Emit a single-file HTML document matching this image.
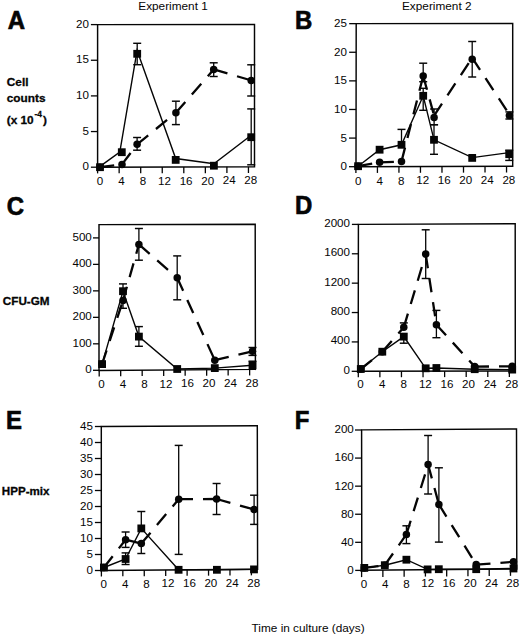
<!DOCTYPE html>
<html><head><meta charset="utf-8"><style>
html,body{margin:0;padding:0;background:#fff;width:520px;height:635px;overflow:hidden}
svg{display:block}
text{font-family:"Liberation Sans", sans-serif;fill:#050505}
</style></head><body>
<svg width="520" height="635" viewBox="0 0 520 635">
<rect width="520" height="635" fill="#fff"/>
<polygon points="97.6,24.6 254.5,24.4 254.5,166.8 97.6,167.2" fill="none" stroke="#050505" stroke-width="1.45" stroke-linejoin="miter"/>
<line x1="90.9" y1="167.2" x2="97.6" y2="167.2" stroke="#050505" stroke-width="1.3" />
<text x="89" y="170.4" font-size="11.6" text-anchor="end" font-weight="normal" >0</text>
<line x1="90.9" y1="131.55" x2="97.6" y2="131.55" stroke="#050505" stroke-width="1.3" />
<text x="89" y="134.75" font-size="11.6" text-anchor="end" font-weight="normal" >5</text>
<line x1="90.9" y1="95.9" x2="97.6" y2="95.9" stroke="#050505" stroke-width="1.3" />
<text x="89" y="99.1" font-size="11.6" text-anchor="end" font-weight="normal" >10</text>
<line x1="90.9" y1="60.25" x2="97.6" y2="60.25" stroke="#050505" stroke-width="1.3" />
<text x="89" y="63.45" font-size="11.6" text-anchor="end" font-weight="normal" >15</text>
<line x1="90.9" y1="24.6" x2="97.6" y2="24.6" stroke="#050505" stroke-width="1.3" />
<text x="89" y="27.8" font-size="11.6" text-anchor="end" font-weight="normal" >20</text>
<line x1="97.6" y1="167.2" x2="97.6" y2="173.4" stroke="#050505" stroke-width="1.3" />
<text x="99.9" y="184.8" font-size="11.6" text-anchor="middle" font-weight="normal" >0</text>
<line x1="119.15" y1="167.15" x2="119.15" y2="173.35" stroke="#050505" stroke-width="1.3" />
<text x="121.45" y="184.75" font-size="11.6" text-anchor="middle" font-weight="normal" >4</text>
<line x1="140.7" y1="167.09" x2="140.7" y2="173.29" stroke="#050505" stroke-width="1.3" />
<text x="143" y="184.69" font-size="11.6" text-anchor="middle" font-weight="normal" >8</text>
<line x1="162.25" y1="167.04" x2="162.25" y2="173.24" stroke="#050505" stroke-width="1.3" />
<text x="164.55" y="184.64" font-size="11.6" text-anchor="middle" font-weight="normal" >12</text>
<line x1="183.8" y1="166.98" x2="183.8" y2="173.18" stroke="#050505" stroke-width="1.3" />
<text x="186.1" y="184.58" font-size="11.6" text-anchor="middle" font-weight="normal" >16</text>
<line x1="205.35" y1="166.93" x2="205.35" y2="173.13" stroke="#050505" stroke-width="1.3" />
<text x="207.65" y="184.53" font-size="11.6" text-anchor="middle" font-weight="normal" >20</text>
<line x1="226.9" y1="166.87" x2="226.9" y2="173.07" stroke="#050505" stroke-width="1.3" />
<text x="229.2" y="184.47" font-size="11.6" text-anchor="middle" font-weight="normal" >24</text>
<line x1="248.45" y1="166.82" x2="248.45" y2="173.02" stroke="#050505" stroke-width="1.3" />
<text x="250.75" y="184.42" font-size="11.6" text-anchor="middle" font-weight="normal" >28</text>
<line x1="137.1" y1="137.5" x2="137.1" y2="144.3" stroke="#050505" stroke-width="1.3" />
<line x1="133.1" y1="137.5" x2="141.1" y2="137.5" stroke="#050505" stroke-width="1.45" />
<line x1="137.1" y1="144.3" x2="137.1" y2="150.2" stroke="#050505" stroke-width="1.3" />
<line x1="133.1" y1="150.2" x2="141.1" y2="150.2" stroke="#050505" stroke-width="1.45" />
<line x1="175.9" y1="101.2" x2="175.9" y2="112.8" stroke="#050505" stroke-width="1.3" />
<line x1="171.9" y1="101.2" x2="179.9" y2="101.2" stroke="#050505" stroke-width="1.45" />
<line x1="175.9" y1="112.8" x2="175.9" y2="124.6" stroke="#050505" stroke-width="1.3" />
<line x1="171.9" y1="124.6" x2="179.9" y2="124.6" stroke="#050505" stroke-width="1.45" />
<line x1="213.7" y1="62.8" x2="213.7" y2="69.4" stroke="#050505" stroke-width="1.3" />
<line x1="209.7" y1="62.8" x2="217.7" y2="62.8" stroke="#050505" stroke-width="1.45" />
<line x1="213.7" y1="69.4" x2="213.7" y2="76.5" stroke="#050505" stroke-width="1.3" />
<line x1="209.7" y1="76.5" x2="217.7" y2="76.5" stroke="#050505" stroke-width="1.45" />
<line x1="251.2" y1="64.8" x2="251.2" y2="80.4" stroke="#050505" stroke-width="1.3" />
<line x1="247.2" y1="64.8" x2="255.2" y2="64.8" stroke="#050505" stroke-width="1.45" />
<line x1="251.2" y1="80.4" x2="251.2" y2="96" stroke="#050505" stroke-width="1.3" />
<line x1="247.2" y1="96" x2="255.2" y2="96" stroke="#050505" stroke-width="1.45" />
<line x1="137.2" y1="43.3" x2="137.2" y2="53.8" stroke="#050505" stroke-width="1.3" />
<line x1="133.2" y1="43.3" x2="141.2" y2="43.3" stroke="#050505" stroke-width="1.45" />
<line x1="137.2" y1="53.8" x2="137.2" y2="64.7" stroke="#050505" stroke-width="1.3" />
<line x1="133.2" y1="64.7" x2="141.2" y2="64.7" stroke="#050505" stroke-width="1.45" />
<line x1="251.2" y1="108.9" x2="251.2" y2="137.2" stroke="#050505" stroke-width="1.3" />
<line x1="247.2" y1="108.9" x2="255.2" y2="108.9" stroke="#050505" stroke-width="1.45" />
<line x1="251.2" y1="137.2" x2="251.2" y2="164.8" stroke="#050505" stroke-width="1.3" />
<line x1="247.2" y1="164.8" x2="255.2" y2="164.8" stroke="#050505" stroke-width="1.45" />
<line x1="100" y1="167.2" x2="122" y2="164.4" stroke="#050505" stroke-width="2.3" stroke-dasharray="14.3 10" stroke-dashoffset="0"/>
<line x1="122" y1="164.4" x2="137.1" y2="144.3" stroke="#050505" stroke-width="2.3" stroke-dasharray="14.3 10" stroke-dashoffset="0"/>
<line x1="137.1" y1="144.3" x2="175.9" y2="112.8" stroke="#050505" stroke-width="2.3" stroke-dasharray="14.3 10" stroke-dashoffset="0"/>
<line x1="175.9" y1="112.8" x2="213.7" y2="69.4" stroke="#050505" stroke-width="2.3" stroke-dasharray="14.3 10" stroke-dashoffset="0"/>
<line x1="213.7" y1="69.4" x2="251.2" y2="80.4" stroke="#050505" stroke-width="2.3" stroke-dasharray="14.3 10" stroke-dashoffset="0"/>
<polyline points="100,166.4 119.8,152 137.1,50.5 175.7,158.5 213.9,163.8 251.2,135.2" fill="none" stroke="#050505" stroke-width="1.4"/>
<circle cx="100" cy="167.2" r="3.75" fill="#050505"/>
<circle cx="122" cy="164.4" r="3.75" fill="#050505"/>
<circle cx="137.1" cy="144.3" r="3.75" fill="#050505"/>
<circle cx="175.9" cy="112.8" r="3.75" fill="#050505"/>
<circle cx="213.7" cy="69.4" r="3.75" fill="#050505"/>
<circle cx="251.2" cy="80.4" r="3.75" fill="#050505"/>
<rect x="96.1" y="163.3" width="7.8" height="7.8" fill="#050505"/>
<rect x="117.9" y="148.3" width="7.8" height="7.8" fill="#050505"/>
<rect x="133.3" y="49.9" width="7.8" height="7.8" fill="#050505"/>
<rect x="171.8" y="156" width="7.8" height="7.8" fill="#050505"/>
<rect x="210" y="161.8" width="7.8" height="7.8" fill="#050505"/>
<rect x="247.3" y="133.3" width="7.8" height="7.8" fill="#050505"/>
<polygon points="356.2,23.65 512.7,23.4 512.7,166.2 356,166.7" fill="none" stroke="#050505" stroke-width="1.45" stroke-linejoin="miter"/>
<line x1="349" y1="166.7" x2="356" y2="166.7" stroke="#050505" stroke-width="1.3" />
<text x="347" y="170.25" font-size="11.6" text-anchor="end" font-weight="normal" >0</text>
<line x1="349.04" y1="138.09" x2="356.04" y2="138.09" stroke="#050505" stroke-width="1.3" />
<text x="347" y="141.64" font-size="11.6" text-anchor="end" font-weight="normal" >5</text>
<line x1="349.08" y1="109.48" x2="356.08" y2="109.48" stroke="#050505" stroke-width="1.3" />
<text x="347" y="113.03" font-size="11.6" text-anchor="end" font-weight="normal" >10</text>
<line x1="349.12" y1="80.87" x2="356.12" y2="80.87" stroke="#050505" stroke-width="1.3" />
<text x="347" y="84.42" font-size="11.6" text-anchor="end" font-weight="normal" >15</text>
<line x1="349.16" y1="52.26" x2="356.16" y2="52.26" stroke="#050505" stroke-width="1.3" />
<text x="347" y="55.81" font-size="11.6" text-anchor="end" font-weight="normal" >20</text>
<line x1="349.2" y1="23.65" x2="356.2" y2="23.65" stroke="#050505" stroke-width="1.3" />
<text x="347" y="27.2" font-size="11.6" text-anchor="end" font-weight="normal" >25</text>
<line x1="355.9" y1="166.7" x2="355.9" y2="173" stroke="#050505" stroke-width="1.3" />
<text x="358.2" y="184.7" font-size="11.6" text-anchor="middle" font-weight="normal" >0</text>
<line x1="377.42" y1="166.63" x2="377.42" y2="172.93" stroke="#050505" stroke-width="1.3" />
<text x="379.72" y="184.63" font-size="11.6" text-anchor="middle" font-weight="normal" >4</text>
<line x1="398.94" y1="166.56" x2="398.94" y2="172.86" stroke="#050505" stroke-width="1.3" />
<text x="401.24" y="184.56" font-size="11.6" text-anchor="middle" font-weight="normal" >8</text>
<line x1="420.46" y1="166.49" x2="420.46" y2="172.79" stroke="#050505" stroke-width="1.3" />
<text x="422.76" y="184.49" font-size="11.6" text-anchor="middle" font-weight="normal" >12</text>
<line x1="441.98" y1="166.43" x2="441.98" y2="172.73" stroke="#050505" stroke-width="1.3" />
<text x="444.28" y="184.43" font-size="11.6" text-anchor="middle" font-weight="normal" >16</text>
<line x1="463.5" y1="166.36" x2="463.5" y2="172.66" stroke="#050505" stroke-width="1.3" />
<text x="465.8" y="184.36" font-size="11.6" text-anchor="middle" font-weight="normal" >20</text>
<line x1="485.02" y1="166.29" x2="485.02" y2="172.59" stroke="#050505" stroke-width="1.3" />
<text x="487.32" y="184.29" font-size="11.6" text-anchor="middle" font-weight="normal" >24</text>
<line x1="506.54" y1="166.22" x2="506.54" y2="172.52" stroke="#050505" stroke-width="1.3" />
<text x="508.84" y="184.22" font-size="11.6" text-anchor="middle" font-weight="normal" >28</text>
<line x1="423.2" y1="63.2" x2="423.2" y2="76" stroke="#050505" stroke-width="1.3" />
<line x1="419.2" y1="63.2" x2="427.2" y2="63.2" stroke="#050505" stroke-width="1.45" />
<line x1="423.2" y1="76" x2="423.2" y2="81.7" stroke="#050505" stroke-width="1.3" />
<line x1="419.2" y1="81.7" x2="427.2" y2="81.7" stroke="#050505" stroke-width="1.45" />
<line x1="434.1" y1="109" x2="434.1" y2="117.4" stroke="#050505" stroke-width="1.3" />
<line x1="430.1" y1="109" x2="438.1" y2="109" stroke="#050505" stroke-width="1.45" />
<line x1="434.1" y1="117.4" x2="434.1" y2="124.7" stroke="#050505" stroke-width="1.3" />
<line x1="430.1" y1="124.7" x2="438.1" y2="124.7" stroke="#050505" stroke-width="1.45" />
<line x1="472.2" y1="41.5" x2="472.2" y2="59.3" stroke="#050505" stroke-width="1.3" />
<line x1="468.2" y1="41.5" x2="476.2" y2="41.5" stroke="#050505" stroke-width="1.45" />
<line x1="472.2" y1="59.3" x2="472.2" y2="77" stroke="#050505" stroke-width="1.3" />
<line x1="468.2" y1="77" x2="476.2" y2="77" stroke="#050505" stroke-width="1.45" />
<line x1="509.4" y1="111.9" x2="509.4" y2="115.4" stroke="#050505" stroke-width="1.3" />
<line x1="505.4" y1="111.9" x2="513.4" y2="111.9" stroke="#050505" stroke-width="1.45" />
<line x1="509.4" y1="115.4" x2="509.4" y2="119" stroke="#050505" stroke-width="1.3" />
<line x1="505.4" y1="119" x2="513.4" y2="119" stroke="#050505" stroke-width="1.45" />
<line x1="401.5" y1="129.4" x2="401.5" y2="144.8" stroke="#050505" stroke-width="1.3" />
<line x1="397.5" y1="129.4" x2="405.5" y2="129.4" stroke="#050505" stroke-width="1.45" />
<line x1="423.2" y1="88.3" x2="423.2" y2="95.8" stroke="#050505" stroke-width="1.3" />
<line x1="419.2" y1="88.3" x2="427.2" y2="88.3" stroke="#050505" stroke-width="1.45" />
<line x1="423.2" y1="95.8" x2="423.2" y2="110.3" stroke="#050505" stroke-width="1.3" />
<line x1="419.2" y1="110.3" x2="427.2" y2="110.3" stroke="#050505" stroke-width="1.45" />
<line x1="434" y1="124.7" x2="434" y2="139.8" stroke="#050505" stroke-width="1.3" />
<line x1="430" y1="124.7" x2="438" y2="124.7" stroke="#050505" stroke-width="1.45" />
<line x1="434" y1="139.8" x2="434" y2="154.3" stroke="#050505" stroke-width="1.3" />
<line x1="430" y1="154.3" x2="438" y2="154.3" stroke="#050505" stroke-width="1.45" />
<line x1="509.2" y1="150.2" x2="509.2" y2="154.2" stroke="#050505" stroke-width="1.3" />
<line x1="505.2" y1="150.2" x2="513.2" y2="150.2" stroke="#050505" stroke-width="1.45" />
<line x1="509.2" y1="154.2" x2="509.2" y2="160.4" stroke="#050505" stroke-width="1.3" />
<line x1="505.2" y1="160.4" x2="513.2" y2="160.4" stroke="#050505" stroke-width="1.45" />
<line x1="358.1" y1="166.2" x2="379.6" y2="162.3" stroke="#050505" stroke-width="2.3" stroke-dasharray="14.3 10" stroke-dashoffset="0"/>
<line x1="379.6" y1="162.3" x2="401.5" y2="161.5" stroke="#050505" stroke-width="2.3" stroke-dasharray="14.3 10" stroke-dashoffset="0"/>
<line x1="401.5" y1="161.5" x2="423.2" y2="76" stroke="#050505" stroke-width="2.3" stroke-dasharray="14.3 10" stroke-dashoffset="0"/>
<line x1="423.2" y1="76" x2="434.1" y2="115.6" stroke="#050505" stroke-width="2.3" stroke-dasharray="14.3 10" stroke-dashoffset="0"/>
<line x1="434.1" y1="115.6" x2="472.2" y2="57.8" stroke="#050505" stroke-width="2.3" stroke-dasharray="14.3 10" stroke-dashoffset="0"/>
<line x1="472.2" y1="57.8" x2="509.4" y2="114.6" stroke="#050505" stroke-width="2.3" stroke-dasharray="14.3 10" stroke-dashoffset="0"/>
<polyline points="358.1,166.2 379.6,149.7 401.5,144.8 423.2,95.8 434,139.8 472.2,157.6 509.2,152.6" fill="none" stroke="#050505" stroke-width="1.4"/>
<circle cx="358.1" cy="166.2" r="3.75" fill="#050505"/>
<circle cx="379.6" cy="162.3" r="3.75" fill="#050505"/>
<circle cx="401.5" cy="161.5" r="3.75" fill="#050505"/>
<circle cx="423.2" cy="76" r="3.75" fill="#050505"/>
<circle cx="434.1" cy="117.4" r="3.75" fill="#050505"/>
<circle cx="472.2" cy="59.3" r="3.75" fill="#050505"/>
<circle cx="509.4" cy="115.4" r="3.75" fill="#050505"/>
<rect x="354.2" y="162.3" width="7.8" height="7.8" fill="#050505"/>
<rect x="375.7" y="145.8" width="7.8" height="7.8" fill="#050505"/>
<rect x="397.6" y="140.9" width="7.8" height="7.8" fill="#050505"/>
<rect x="419.3" y="91.9" width="7.8" height="7.8" fill="#050505"/>
<rect x="430.1" y="135.9" width="7.8" height="7.8" fill="#050505"/>
<rect x="468.3" y="154" width="7.8" height="7.8" fill="#050505"/>
<rect x="505.3" y="150.3" width="7.8" height="7.8" fill="#050505"/>
<polygon points="99,224.6 255.2,224.3 255.4,369.4 99,370.4" fill="none" stroke="#050505" stroke-width="1.45" stroke-linejoin="miter"/>
<line x1="93" y1="370.3" x2="99" y2="370.3" stroke="#050505" stroke-width="1.3" />
<text x="91.8" y="373.15" font-size="11.6" text-anchor="end" font-weight="normal" >0</text>
<line x1="93" y1="343.82" x2="99" y2="343.82" stroke="#050505" stroke-width="1.3" />
<text x="91.8" y="346.67" font-size="11.6" text-anchor="end" font-weight="normal" >100</text>
<line x1="93" y1="317.34" x2="99" y2="317.34" stroke="#050505" stroke-width="1.3" />
<text x="91.8" y="320.19" font-size="11.6" text-anchor="end" font-weight="normal" >200</text>
<line x1="93" y1="290.86" x2="99" y2="290.86" stroke="#050505" stroke-width="1.3" />
<text x="91.8" y="293.71" font-size="11.6" text-anchor="end" font-weight="normal" >300</text>
<line x1="93" y1="264.38" x2="99" y2="264.38" stroke="#050505" stroke-width="1.3" />
<text x="91.8" y="267.23" font-size="11.6" text-anchor="end" font-weight="normal" >400</text>
<line x1="93" y1="237.9" x2="99" y2="237.9" stroke="#050505" stroke-width="1.3" />
<text x="91.8" y="240.75" font-size="11.6" text-anchor="end" font-weight="normal" >500</text>
<line x1="99.2" y1="370.4" x2="99.2" y2="376.4" stroke="#050505" stroke-width="1.3" />
<text x="101.5" y="388" font-size="11.6" text-anchor="middle" font-weight="normal" >0</text>
<line x1="120.69" y1="370.26" x2="120.69" y2="376.26" stroke="#050505" stroke-width="1.3" />
<text x="122.99" y="387.86" font-size="11.6" text-anchor="middle" font-weight="normal" >4</text>
<line x1="142.18" y1="370.12" x2="142.18" y2="376.12" stroke="#050505" stroke-width="1.3" />
<text x="144.48" y="387.72" font-size="11.6" text-anchor="middle" font-weight="normal" >8</text>
<line x1="163.67" y1="369.99" x2="163.67" y2="375.99" stroke="#050505" stroke-width="1.3" />
<text x="165.97" y="387.59" font-size="11.6" text-anchor="middle" font-weight="normal" >12</text>
<line x1="185.16" y1="369.85" x2="185.16" y2="375.85" stroke="#050505" stroke-width="1.3" />
<text x="187.46" y="387.45" font-size="11.6" text-anchor="middle" font-weight="normal" >16</text>
<line x1="206.65" y1="369.71" x2="206.65" y2="375.71" stroke="#050505" stroke-width="1.3" />
<text x="208.95" y="387.31" font-size="11.6" text-anchor="middle" font-weight="normal" >20</text>
<line x1="228.14" y1="369.57" x2="228.14" y2="375.57" stroke="#050505" stroke-width="1.3" />
<text x="230.44" y="387.17" font-size="11.6" text-anchor="middle" font-weight="normal" >24</text>
<line x1="249.63" y1="369.44" x2="249.63" y2="375.44" stroke="#050505" stroke-width="1.3" />
<text x="251.93" y="387.04" font-size="11.6" text-anchor="middle" font-weight="normal" >28</text>
<line x1="123" y1="300.5" x2="123" y2="308.3" stroke="#050505" stroke-width="1.3" />
<line x1="119" y1="308.3" x2="127" y2="308.3" stroke="#050505" stroke-width="1.45" />
<line x1="138.9" y1="228.5" x2="138.9" y2="244.4" stroke="#050505" stroke-width="1.3" />
<line x1="134.9" y1="228.5" x2="142.9" y2="228.5" stroke="#050505" stroke-width="1.45" />
<line x1="138.9" y1="244.4" x2="138.9" y2="260.2" stroke="#050505" stroke-width="1.3" />
<line x1="134.9" y1="260.2" x2="142.9" y2="260.2" stroke="#050505" stroke-width="1.45" />
<line x1="177.2" y1="255.9" x2="177.2" y2="277.8" stroke="#050505" stroke-width="1.3" />
<line x1="173.2" y1="255.9" x2="181.2" y2="255.9" stroke="#050505" stroke-width="1.45" />
<line x1="177.2" y1="277.8" x2="177.2" y2="299.8" stroke="#050505" stroke-width="1.3" />
<line x1="173.2" y1="299.8" x2="181.2" y2="299.8" stroke="#050505" stroke-width="1.45" />
<line x1="252.5" y1="347.5" x2="252.5" y2="351.3" stroke="#050505" stroke-width="1.3" />
<line x1="248.5" y1="347.5" x2="256.5" y2="347.5" stroke="#050505" stroke-width="1.45" />
<line x1="252.5" y1="351.3" x2="252.5" y2="355.4" stroke="#050505" stroke-width="1.3" />
<line x1="248.5" y1="355.4" x2="256.5" y2="355.4" stroke="#050505" stroke-width="1.45" />
<line x1="123" y1="283.9" x2="123" y2="291.2" stroke="#050505" stroke-width="1.3" />
<line x1="119" y1="283.9" x2="127" y2="283.9" stroke="#050505" stroke-width="1.45" />
<line x1="138.9" y1="326.6" x2="138.9" y2="336.6" stroke="#050505" stroke-width="1.3" />
<line x1="134.9" y1="326.6" x2="142.9" y2="326.6" stroke="#050505" stroke-width="1.45" />
<line x1="138.9" y1="336.6" x2="138.9" y2="346.3" stroke="#050505" stroke-width="1.3" />
<line x1="134.9" y1="346.3" x2="142.9" y2="346.3" stroke="#050505" stroke-width="1.45" />
<line x1="252.5" y1="361.2" x2="252.5" y2="365.2" stroke="#050505" stroke-width="1.3" />
<line x1="248.5" y1="361.2" x2="256.5" y2="361.2" stroke="#050505" stroke-width="1.45" />
<line x1="102.1" y1="364.1" x2="123" y2="300.5" stroke="#050505" stroke-width="2.3" stroke-dasharray="14.3 10" stroke-dashoffset="0"/>
<line x1="123" y1="300.5" x2="138.9" y2="244.4" stroke="#050505" stroke-width="2.3" stroke-dasharray="14.3 10" stroke-dashoffset="0"/>
<line x1="138.9" y1="244.4" x2="177.2" y2="277.8" stroke="#050505" stroke-width="2.3" stroke-dasharray="14.3 10" stroke-dashoffset="0"/>
<line x1="177.2" y1="277.8" x2="214.8" y2="360.2" stroke="#050505" stroke-width="2.3" stroke-dasharray="14.3 10" stroke-dashoffset="0"/>
<line x1="214.8" y1="360.2" x2="252.5" y2="351.3" stroke="#050505" stroke-width="2.3" stroke-dasharray="14.3 10" stroke-dashoffset="0"/>
<polyline points="102.1,364.1 123,291.2 138.9,336.6 177.2,369 214.8,368.1 252.5,365.2" fill="none" stroke="#050505" stroke-width="1.4"/>
<circle cx="102.1" cy="364.1" r="3.75" fill="#050505"/>
<circle cx="123" cy="300.5" r="3.75" fill="#050505"/>
<circle cx="138.9" cy="244.4" r="3.75" fill="#050505"/>
<circle cx="177.2" cy="277.8" r="3.75" fill="#050505"/>
<circle cx="214.8" cy="360.2" r="3.75" fill="#050505"/>
<circle cx="252.5" cy="351.3" r="3.75" fill="#050505"/>
<rect x="98.2" y="360.2" width="7.8" height="7.8" fill="#050505"/>
<rect x="119.1" y="287.3" width="7.8" height="7.8" fill="#050505"/>
<rect x="135" y="332.7" width="7.8" height="7.8" fill="#050505"/>
<rect x="173.3" y="365.1" width="7.8" height="7.8" fill="#050505"/>
<rect x="210.9" y="364.2" width="7.8" height="7.8" fill="#050505"/>
<rect x="248.6" y="361.3" width="7.8" height="7.8" fill="#050505"/>
<polygon points="358.4,224.4 515.2,223.7 515.3,371 358.2,371.3" fill="none" stroke="#050505" stroke-width="1.45" stroke-linejoin="miter"/>
<line x1="351.7" y1="371.3" x2="358.2" y2="371.3" stroke="#050505" stroke-width="1.3" />
<text x="350" y="373.65" font-size="11.6" text-anchor="end" font-weight="normal" >0</text>
<line x1="351.74" y1="341.92" x2="358.24" y2="341.92" stroke="#050505" stroke-width="1.3" />
<text x="350" y="344.27" font-size="11.6" text-anchor="end" font-weight="normal" >400</text>
<line x1="351.78" y1="312.54" x2="358.28" y2="312.54" stroke="#050505" stroke-width="1.3" />
<text x="350" y="314.89" font-size="11.6" text-anchor="end" font-weight="normal" >800</text>
<line x1="351.82" y1="283.16" x2="358.32" y2="283.16" stroke="#050505" stroke-width="1.3" />
<text x="350" y="285.51" font-size="11.6" text-anchor="end" font-weight="normal" >1200</text>
<line x1="351.86" y1="253.78" x2="358.36" y2="253.78" stroke="#050505" stroke-width="1.3" />
<text x="350" y="256.13" font-size="11.6" text-anchor="end" font-weight="normal" >1600</text>
<line x1="351.9" y1="224.4" x2="358.4" y2="224.4" stroke="#050505" stroke-width="1.3" />
<text x="350" y="226.75" font-size="11.6" text-anchor="end" font-weight="normal" >2000</text>
<line x1="358.3" y1="371.3" x2="358.3" y2="377.3" stroke="#050505" stroke-width="1.3" />
<text x="360.6" y="388.2" font-size="11.6" text-anchor="middle" font-weight="normal" >0</text>
<line x1="379.88" y1="371.26" x2="379.88" y2="377.26" stroke="#050505" stroke-width="1.3" />
<text x="382.18" y="388.16" font-size="11.6" text-anchor="middle" font-weight="normal" >4</text>
<line x1="401.46" y1="371.22" x2="401.46" y2="377.22" stroke="#050505" stroke-width="1.3" />
<text x="403.76" y="388.12" font-size="11.6" text-anchor="middle" font-weight="normal" >8</text>
<line x1="423.04" y1="371.18" x2="423.04" y2="377.18" stroke="#050505" stroke-width="1.3" />
<text x="425.34" y="388.08" font-size="11.6" text-anchor="middle" font-weight="normal" >12</text>
<line x1="444.62" y1="371.13" x2="444.62" y2="377.13" stroke="#050505" stroke-width="1.3" />
<text x="446.92" y="388.03" font-size="11.6" text-anchor="middle" font-weight="normal" >16</text>
<line x1="466.2" y1="371.09" x2="466.2" y2="377.09" stroke="#050505" stroke-width="1.3" />
<text x="468.5" y="387.99" font-size="11.6" text-anchor="middle" font-weight="normal" >20</text>
<line x1="487.78" y1="371.05" x2="487.78" y2="377.05" stroke="#050505" stroke-width="1.3" />
<text x="490.08" y="387.95" font-size="11.6" text-anchor="middle" font-weight="normal" >24</text>
<line x1="509.36" y1="371.01" x2="509.36" y2="377.01" stroke="#050505" stroke-width="1.3" />
<text x="511.66" y="387.91" font-size="11.6" text-anchor="middle" font-weight="normal" >28</text>
<line x1="403.8" y1="322.9" x2="403.8" y2="327.3" stroke="#050505" stroke-width="1.3" />
<line x1="399.8" y1="322.9" x2="407.8" y2="322.9" stroke="#050505" stroke-width="1.45" />
<line x1="425.7" y1="229.8" x2="425.7" y2="254.1" stroke="#050505" stroke-width="1.3" />
<line x1="421.7" y1="229.8" x2="429.7" y2="229.8" stroke="#050505" stroke-width="1.45" />
<line x1="425.7" y1="254.1" x2="425.7" y2="278.5" stroke="#050505" stroke-width="1.3" />
<line x1="421.7" y1="278.5" x2="429.7" y2="278.5" stroke="#050505" stroke-width="1.45" />
<line x1="436.4" y1="310.4" x2="436.4" y2="324.7" stroke="#050505" stroke-width="1.3" />
<line x1="432.4" y1="310.4" x2="440.4" y2="310.4" stroke="#050505" stroke-width="1.45" />
<line x1="436.4" y1="324.7" x2="436.4" y2="337.7" stroke="#050505" stroke-width="1.3" />
<line x1="432.4" y1="337.7" x2="440.4" y2="337.7" stroke="#050505" stroke-width="1.45" />
<line x1="403.8" y1="336.6" x2="403.8" y2="343.2" stroke="#050505" stroke-width="1.3" />
<line x1="399.8" y1="343.2" x2="407.8" y2="343.2" stroke="#050505" stroke-width="1.45" />
<line x1="360.8" y1="369" x2="382.3" y2="351.7" stroke="#050505" stroke-width="2.3" stroke-dasharray="14.3 10" stroke-dashoffset="0"/>
<line x1="382.3" y1="351.7" x2="403.8" y2="327.3" stroke="#050505" stroke-width="2.3" stroke-dasharray="14.3 10" stroke-dashoffset="0"/>
<line x1="403.8" y1="327.3" x2="425.7" y2="254.1" stroke="#050505" stroke-width="2.3" stroke-dasharray="14.3 10" stroke-dashoffset="0"/>
<line x1="425.7" y1="254.1" x2="436.4" y2="324.7" stroke="#050505" stroke-width="2.3" stroke-dasharray="14.3 10" stroke-dashoffset="0"/>
<line x1="436.4" y1="324.7" x2="474.7" y2="366.6" stroke="#050505" stroke-width="2.3" stroke-dasharray="14.3 10" stroke-dashoffset="0"/>
<line x1="474.7" y1="366.6" x2="512.2" y2="366.3" stroke="#050505" stroke-width="2.3" stroke-dasharray="14.3 10" stroke-dashoffset="0"/>
<polyline points="360.8,369 382.3,351.7 403.8,336.6 425.7,368.3 436.4,368 474.7,369.2 512.2,369.6" fill="none" stroke="#050505" stroke-width="1.4"/>
<circle cx="360.8" cy="369" r="3.75" fill="#050505"/>
<circle cx="382.3" cy="351.7" r="3.75" fill="#050505"/>
<circle cx="403.8" cy="327.3" r="3.75" fill="#050505"/>
<circle cx="425.7" cy="254.1" r="3.75" fill="#050505"/>
<circle cx="436.4" cy="324.7" r="3.75" fill="#050505"/>
<circle cx="474.7" cy="366.6" r="3.75" fill="#050505"/>
<circle cx="512.2" cy="366.3" r="3.75" fill="#050505"/>
<rect x="356.9" y="365.1" width="7.8" height="7.8" fill="#050505"/>
<rect x="378.4" y="347.8" width="7.8" height="7.8" fill="#050505"/>
<rect x="399.9" y="332.7" width="7.8" height="7.8" fill="#050505"/>
<rect x="421.8" y="364.4" width="7.8" height="7.8" fill="#050505"/>
<rect x="432.5" y="364.1" width="7.8" height="7.8" fill="#050505"/>
<rect x="470.8" y="365.3" width="7.8" height="7.8" fill="#050505"/>
<rect x="508.3" y="365.7" width="7.8" height="7.8" fill="#050505"/>
<polygon points="101.3,426.5 257.3,425.8 257.6,569.3 101.3,570.5" fill="none" stroke="#050505" stroke-width="1.45" stroke-linejoin="miter"/>
<line x1="94.9" y1="570.5" x2="101.3" y2="570.5" stroke="#050505" stroke-width="1.3" />
<text x="93" y="573.95" font-size="11.6" text-anchor="end" font-weight="normal" >0</text>
<line x1="94.9" y1="554.5" x2="101.3" y2="554.5" stroke="#050505" stroke-width="1.3" />
<text x="93" y="557.95" font-size="11.6" text-anchor="end" font-weight="normal" >5</text>
<line x1="94.9" y1="538.5" x2="101.3" y2="538.5" stroke="#050505" stroke-width="1.3" />
<text x="93" y="541.95" font-size="11.6" text-anchor="end" font-weight="normal" >10</text>
<line x1="94.9" y1="522.5" x2="101.3" y2="522.5" stroke="#050505" stroke-width="1.3" />
<text x="93" y="525.95" font-size="11.6" text-anchor="end" font-weight="normal" >15</text>
<line x1="94.9" y1="506.5" x2="101.3" y2="506.5" stroke="#050505" stroke-width="1.3" />
<text x="93" y="509.95" font-size="11.6" text-anchor="end" font-weight="normal" >20</text>
<line x1="94.9" y1="490.5" x2="101.3" y2="490.5" stroke="#050505" stroke-width="1.3" />
<text x="93" y="493.95" font-size="11.6" text-anchor="end" font-weight="normal" >25</text>
<line x1="94.9" y1="474.5" x2="101.3" y2="474.5" stroke="#050505" stroke-width="1.3" />
<text x="93" y="477.95" font-size="11.6" text-anchor="end" font-weight="normal" >30</text>
<line x1="94.9" y1="458.5" x2="101.3" y2="458.5" stroke="#050505" stroke-width="1.3" />
<text x="93" y="461.95" font-size="11.6" text-anchor="end" font-weight="normal" >35</text>
<line x1="94.9" y1="442.5" x2="101.3" y2="442.5" stroke="#050505" stroke-width="1.3" />
<text x="93" y="445.95" font-size="11.6" text-anchor="end" font-weight="normal" >40</text>
<line x1="94.9" y1="426.5" x2="101.3" y2="426.5" stroke="#050505" stroke-width="1.3" />
<text x="93" y="429.95" font-size="11.6" text-anchor="end" font-weight="normal" >45</text>
<line x1="101.4" y1="570.5" x2="101.4" y2="576.5" stroke="#050505" stroke-width="1.3" />
<text x="103.7" y="587.9" font-size="11.6" text-anchor="middle" font-weight="normal" >0</text>
<line x1="122.83" y1="570.33" x2="122.83" y2="576.33" stroke="#050505" stroke-width="1.3" />
<text x="125.13" y="587.73" font-size="11.6" text-anchor="middle" font-weight="normal" >4</text>
<line x1="144.26" y1="570.17" x2="144.26" y2="576.17" stroke="#050505" stroke-width="1.3" />
<text x="146.56" y="587.57" font-size="11.6" text-anchor="middle" font-weight="normal" >8</text>
<line x1="165.69" y1="570.01" x2="165.69" y2="576.01" stroke="#050505" stroke-width="1.3" />
<text x="167.99" y="587.41" font-size="11.6" text-anchor="middle" font-weight="normal" >12</text>
<line x1="187.12" y1="569.84" x2="187.12" y2="575.84" stroke="#050505" stroke-width="1.3" />
<text x="189.42" y="587.24" font-size="11.6" text-anchor="middle" font-weight="normal" >16</text>
<line x1="208.55" y1="569.68" x2="208.55" y2="575.68" stroke="#050505" stroke-width="1.3" />
<text x="210.85" y="587.08" font-size="11.6" text-anchor="middle" font-weight="normal" >20</text>
<line x1="229.98" y1="569.51" x2="229.98" y2="575.51" stroke="#050505" stroke-width="1.3" />
<text x="232.28" y="586.91" font-size="11.6" text-anchor="middle" font-weight="normal" >24</text>
<line x1="251.41" y1="569.35" x2="251.41" y2="575.35" stroke="#050505" stroke-width="1.3" />
<text x="253.71" y="586.75" font-size="11.6" text-anchor="middle" font-weight="normal" >28</text>
<line x1="125.6" y1="532" x2="125.6" y2="539.7" stroke="#050505" stroke-width="1.3" />
<line x1="121.6" y1="532" x2="129.6" y2="532" stroke="#050505" stroke-width="1.45" />
<line x1="125.6" y1="539.7" x2="125.6" y2="547.4" stroke="#050505" stroke-width="1.3" />
<line x1="121.6" y1="547.4" x2="129.6" y2="547.4" stroke="#050505" stroke-width="1.45" />
<line x1="141.3" y1="543.6" x2="141.3" y2="553.5" stroke="#050505" stroke-width="1.3" />
<line x1="137.3" y1="553.5" x2="145.3" y2="553.5" stroke="#050505" stroke-width="1.45" />
<line x1="178.7" y1="445.4" x2="178.7" y2="499.2" stroke="#050505" stroke-width="1.3" />
<line x1="174.7" y1="445.4" x2="182.7" y2="445.4" stroke="#050505" stroke-width="1.45" />
<line x1="178.7" y1="499.2" x2="178.7" y2="554.4" stroke="#050505" stroke-width="1.3" />
<line x1="174.7" y1="554.4" x2="182.7" y2="554.4" stroke="#050505" stroke-width="1.45" />
<line x1="216.6" y1="483.5" x2="216.6" y2="499" stroke="#050505" stroke-width="1.3" />
<line x1="212.6" y1="483.5" x2="220.6" y2="483.5" stroke="#050505" stroke-width="1.45" />
<line x1="216.6" y1="499" x2="216.6" y2="514.5" stroke="#050505" stroke-width="1.3" />
<line x1="212.6" y1="514.5" x2="220.6" y2="514.5" stroke="#050505" stroke-width="1.45" />
<line x1="254.1" y1="495.2" x2="254.1" y2="509.5" stroke="#050505" stroke-width="1.3" />
<line x1="250.1" y1="495.2" x2="258.1" y2="495.2" stroke="#050505" stroke-width="1.45" />
<line x1="254.1" y1="509.5" x2="254.1" y2="524.4" stroke="#050505" stroke-width="1.3" />
<line x1="250.1" y1="524.4" x2="258.1" y2="524.4" stroke="#050505" stroke-width="1.45" />
<line x1="125.6" y1="552.9" x2="125.6" y2="559" stroke="#050505" stroke-width="1.3" />
<line x1="121.6" y1="552.9" x2="129.6" y2="552.9" stroke="#050505" stroke-width="1.45" />
<line x1="125.6" y1="559" x2="125.6" y2="564.5" stroke="#050505" stroke-width="1.3" />
<line x1="121.6" y1="564.5" x2="129.6" y2="564.5" stroke="#050505" stroke-width="1.45" />
<line x1="141.3" y1="511.5" x2="141.3" y2="528.4" stroke="#050505" stroke-width="1.3" />
<line x1="137.3" y1="511.5" x2="145.3" y2="511.5" stroke="#050505" stroke-width="1.45" />
<line x1="103.9" y1="567.5" x2="125.6" y2="539.7" stroke="#050505" stroke-width="2.3" stroke-dasharray="14.3 10" stroke-dashoffset="0"/>
<line x1="125.6" y1="539.7" x2="141.3" y2="543.6" stroke="#050505" stroke-width="2.3" stroke-dasharray="14.3 10" stroke-dashoffset="0"/>
<line x1="141.3" y1="543.6" x2="178.7" y2="499.2" stroke="#050505" stroke-width="2.3" stroke-dasharray="14.3 10" stroke-dashoffset="0"/>
<line x1="178.7" y1="499.2" x2="216.6" y2="499" stroke="#050505" stroke-width="2.3" stroke-dasharray="14.3 10" stroke-dashoffset="0"/>
<line x1="216.6" y1="499" x2="254.1" y2="509.5" stroke="#050505" stroke-width="2.3" stroke-dasharray="14.3 10" stroke-dashoffset="0"/>
<polyline points="103.9,567.5 125.6,559 141.3,528.4 178.6,569.8 216.9,569.8 254,569.4" fill="none" stroke="#050505" stroke-width="1.4"/>
<circle cx="103.9" cy="567.5" r="3.75" fill="#050505"/>
<circle cx="125.6" cy="539.7" r="3.75" fill="#050505"/>
<circle cx="141.3" cy="543.6" r="3.75" fill="#050505"/>
<circle cx="178.7" cy="499.2" r="3.75" fill="#050505"/>
<circle cx="216.6" cy="499" r="3.75" fill="#050505"/>
<circle cx="254.1" cy="509.5" r="3.75" fill="#050505"/>
<rect x="100" y="563.6" width="7.8" height="7.8" fill="#050505"/>
<rect x="121.7" y="555.1" width="7.8" height="7.8" fill="#050505"/>
<rect x="137.4" y="524.5" width="7.8" height="7.8" fill="#050505"/>
<rect x="174.7" y="565.9" width="7.8" height="7.8" fill="#050505"/>
<rect x="213" y="565.9" width="7.8" height="7.8" fill="#050505"/>
<rect x="250.1" y="565.5" width="7.8" height="7.8" fill="#050505"/>
<polygon points="361.6,429.9 516.5,428.9 516.8,569 361.8,570.3" fill="none" stroke="#050505" stroke-width="1.45" stroke-linejoin="miter"/>
<line x1="355.2" y1="570.4" x2="361.8" y2="570.4" stroke="#050505" stroke-width="1.3" />
<text x="353.8" y="573.8" font-size="11.6" text-anchor="end" font-weight="normal" >0</text>
<line x1="355.16" y1="542.32" x2="361.76" y2="542.32" stroke="#050505" stroke-width="1.3" />
<text x="353.8" y="545.72" font-size="11.6" text-anchor="end" font-weight="normal" >40</text>
<line x1="355.12" y1="514.24" x2="361.72" y2="514.24" stroke="#050505" stroke-width="1.3" />
<text x="353.8" y="517.64" font-size="11.6" text-anchor="end" font-weight="normal" >80</text>
<line x1="355.08" y1="486.16" x2="361.68" y2="486.16" stroke="#050505" stroke-width="1.3" />
<text x="353.8" y="489.56" font-size="11.6" text-anchor="end" font-weight="normal" >120</text>
<line x1="355.04" y1="458.08" x2="361.64" y2="458.08" stroke="#050505" stroke-width="1.3" />
<text x="353.8" y="461.48" font-size="11.6" text-anchor="end" font-weight="normal" >160</text>
<line x1="355" y1="430" x2="361.6" y2="430" stroke="#050505" stroke-width="1.3" />
<text x="353.8" y="433.4" font-size="11.6" text-anchor="end" font-weight="normal" >200</text>
<line x1="361.6" y1="570.3" x2="361.6" y2="577.1" stroke="#050505" stroke-width="1.3" />
<text x="363.9" y="587.9" font-size="11.6" text-anchor="middle" font-weight="normal" >0</text>
<line x1="382.87" y1="570.12" x2="382.87" y2="576.92" stroke="#050505" stroke-width="1.3" />
<text x="385.17" y="587.72" font-size="11.6" text-anchor="middle" font-weight="normal" >4</text>
<line x1="404.14" y1="569.94" x2="404.14" y2="576.74" stroke="#050505" stroke-width="1.3" />
<text x="406.44" y="587.54" font-size="11.6" text-anchor="middle" font-weight="normal" >8</text>
<line x1="425.41" y1="569.77" x2="425.41" y2="576.57" stroke="#050505" stroke-width="1.3" />
<text x="427.71" y="587.37" font-size="11.6" text-anchor="middle" font-weight="normal" >12</text>
<line x1="446.68" y1="569.59" x2="446.68" y2="576.39" stroke="#050505" stroke-width="1.3" />
<text x="448.98" y="587.19" font-size="11.6" text-anchor="middle" font-weight="normal" >16</text>
<line x1="467.95" y1="569.41" x2="467.95" y2="576.21" stroke="#050505" stroke-width="1.3" />
<text x="470.25" y="587.01" font-size="11.6" text-anchor="middle" font-weight="normal" >20</text>
<line x1="489.22" y1="569.23" x2="489.22" y2="576.03" stroke="#050505" stroke-width="1.3" />
<text x="491.52" y="586.83" font-size="11.6" text-anchor="middle" font-weight="normal" >24</text>
<line x1="510.49" y1="569.05" x2="510.49" y2="575.85" stroke="#050505" stroke-width="1.3" />
<text x="512.79" y="586.65" font-size="11.6" text-anchor="middle" font-weight="normal" >28</text>
<line x1="406.4" y1="525.8" x2="406.4" y2="534.4" stroke="#050505" stroke-width="1.3" />
<line x1="402.4" y1="525.8" x2="410.4" y2="525.8" stroke="#050505" stroke-width="1.45" />
<line x1="406.4" y1="534.4" x2="406.4" y2="543.6" stroke="#050505" stroke-width="1.3" />
<line x1="402.4" y1="543.6" x2="410.4" y2="543.6" stroke="#050505" stroke-width="1.45" />
<line x1="428.1" y1="435.5" x2="428.1" y2="464.6" stroke="#050505" stroke-width="1.3" />
<line x1="424.1" y1="435.5" x2="432.1" y2="435.5" stroke="#050505" stroke-width="1.45" />
<line x1="428.1" y1="464.6" x2="428.1" y2="494" stroke="#050505" stroke-width="1.3" />
<line x1="424.1" y1="494" x2="432.1" y2="494" stroke="#050505" stroke-width="1.45" />
<line x1="438.9" y1="467.8" x2="438.9" y2="504.4" stroke="#050505" stroke-width="1.3" />
<line x1="434.9" y1="467.8" x2="442.9" y2="467.8" stroke="#050505" stroke-width="1.45" />
<line x1="438.9" y1="504.4" x2="438.9" y2="542.1" stroke="#050505" stroke-width="1.3" />
<line x1="434.9" y1="542.1" x2="442.9" y2="542.1" stroke="#050505" stroke-width="1.45" />
<line x1="364.3" y1="567.9" x2="384.8" y2="565.2" stroke="#050505" stroke-width="2.3" stroke-dasharray="14.3 10" stroke-dashoffset="0"/>
<line x1="384.8" y1="565.2" x2="406.4" y2="534.4" stroke="#050505" stroke-width="2.3" stroke-dasharray="14.3 10" stroke-dashoffset="0"/>
<line x1="406.4" y1="534.4" x2="428.1" y2="464.6" stroke="#050505" stroke-width="2.3" stroke-dasharray="14.3 10" stroke-dashoffset="0"/>
<line x1="428.1" y1="464.6" x2="438.9" y2="504.4" stroke="#050505" stroke-width="2.3" stroke-dasharray="14.3 10" stroke-dashoffset="0"/>
<line x1="438.9" y1="504.4" x2="476.2" y2="564.6" stroke="#050505" stroke-width="2.3" stroke-dasharray="14.3 10" stroke-dashoffset="0"/>
<line x1="476.2" y1="564.6" x2="513.5" y2="561.8" stroke="#050505" stroke-width="2.3" stroke-dasharray="14.3 10" stroke-dashoffset="0"/>
<polyline points="364.3,567.9 384.8,565.2 406.4,559.7 427.6,569.4 438.8,569.2 476.2,569.2 513.5,568.5" fill="none" stroke="#050505" stroke-width="1.4"/>
<circle cx="364.3" cy="567.9" r="3.75" fill="#050505"/>
<circle cx="384.8" cy="565.2" r="3.75" fill="#050505"/>
<circle cx="406.4" cy="534.4" r="3.75" fill="#050505"/>
<circle cx="428.1" cy="464.6" r="3.75" fill="#050505"/>
<circle cx="438.9" cy="504.4" r="3.75" fill="#050505"/>
<circle cx="476.2" cy="564.6" r="3.75" fill="#050505"/>
<circle cx="513.5" cy="561.8" r="3.75" fill="#050505"/>
<rect x="360.4" y="564" width="7.8" height="7.8" fill="#050505"/>
<rect x="380.9" y="561.3" width="7.8" height="7.8" fill="#050505"/>
<rect x="402.5" y="555.8" width="7.8" height="7.8" fill="#050505"/>
<rect x="423.7" y="565.5" width="7.8" height="7.8" fill="#050505"/>
<rect x="434.9" y="565.3" width="7.8" height="7.8" fill="#050505"/>
<rect x="472.3" y="565.3" width="7.8" height="7.8" fill="#050505"/>
<rect x="509.6" y="564.6" width="7.8" height="7.8" fill="#050505"/>
<text transform="translate(7.8,28.9) scale(0.91,1)" font-size="26.3" font-weight="bold" stroke="#050505" stroke-width="0.7">A</text>
<text transform="translate(295,28.85) scale(0.91,1)" font-size="26.3" font-weight="bold" stroke="#050505" stroke-width="0.7">B</text>
<text transform="translate(6.8,214.8) scale(0.91,1)" font-size="26.3" font-weight="bold" stroke="#050505" stroke-width="0.7">C</text>
<text transform="translate(295,214.45) scale(0.91,1)" font-size="26.3" font-weight="bold" stroke="#050505" stroke-width="0.7">D</text>
<text transform="translate(6,429.05) scale(0.91,1)" font-size="26.3" font-weight="bold" stroke="#050505" stroke-width="0.7">E</text>
<text transform="translate(294.8,429.05) scale(0.91,1)" font-size="26.3" font-weight="bold" stroke="#050505" stroke-width="0.7">F</text>
<text x="138.3" y="10.3" font-size="11.8" text-anchor="start" font-weight="normal" >Experiment 1</text>
<text x="402" y="10.3" font-size="11.8" text-anchor="start" font-weight="normal" >Experiment 2</text>
<text x="6.8" y="86" font-size="11.8" text-anchor="start" font-weight="bold" stroke="#050505" stroke-width="0.3">Cell</text>
<text x="6.8" y="101.5" font-size="11.8" text-anchor="start" font-weight="bold" stroke="#050505" stroke-width="0.3">counts</text>
<text x="6.8" y="124.3" font-size="11.8" font-weight="bold" stroke="#050505" stroke-width="0.3">(x 10<tspan font-size="8.4" dx="0.8" dy="-7.3">-4</tspan><tspan dx="1.0" dy="7.3">)</tspan></text>
<text x="2.8" y="304.6" font-size="11.7" text-anchor="start" font-weight="bold" stroke="#050505" stroke-width="0.3">CFU-GM</text>
<text x="1.8" y="495.3" font-size="11.6" text-anchor="start" font-weight="bold" stroke="#050505" stroke-width="0.3">HPP-mix</text>
<text x="251.6" y="631.8" font-size="11.8" text-anchor="start" font-weight="normal" >Time in culture (days)</text>
</svg>
</body></html>
